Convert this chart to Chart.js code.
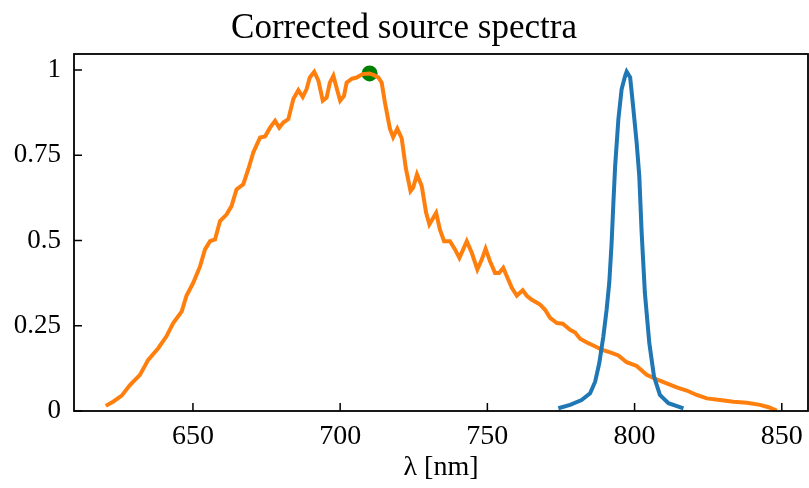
<!DOCTYPE html>
<html>
<head>
<meta charset="utf-8">
<script src="https://cdn.jsdelivr.net/npm/chart.js@4"></script>
<style>
  html, body { margin: 0; padding: 0; background: #fff; }
  #wrap { width: 809px; height: 488px; }
</style>
</head>
<body>
<div id="wrap"><canvas id="myChart"></canvas></div>
<script>
// orange source spectrum (wavelength, normalised intensity)
const orangeX = [620.4, 623, 625.8, 628.6, 632, 634.8, 638.2, 641, 643.3, 646.2, 647.8, 650.1, 652.4, 654.1, 655.8, 657.5,
    659.2, 661.4, 663.1, 664.8, 667.1, 668.8, 670.5, 672.8, 674.5, 676.2, 677.9, 679.3, 680.7, 682.4, 684.1, 685.8,
    687.3, 688.6, 689.7, 691.2, 692.6, 694.1, 695.4, 696.5, 697.7, 698.6, 700, 701.3, 702.2, 703.9, 705.6, 707.6,
    709.9, 711.5, 713, 714.1, 715.2, 716.9, 718, 719.4, 720.9, 722.3, 723.9, 724.8, 726.1, 727.7, 729.2, 730.3,
    732.6, 733.9, 735.3, 737.3, 739, 740.5, 741.8, 743, 744.7, 746.6, 748.1, 749.4, 750.9, 752.6, 754, 755.4,
    756.6, 758.3, 760, 762, 763.4, 765.1, 767.9, 769.6, 771.3, 773.6, 775.6, 778.1, 779.8, 781.5, 783.8, 786,
    788.8, 791.7, 794.5, 797.3, 800.7, 804.1, 807.5, 810.9, 814.3, 817.7, 821.1, 824.5, 829, 833.6, 838.1, 842.6,
    845.5, 848.3];
const orangeY = [0.015, 0.028, 0.045, 0.076, 0.106, 0.15, 0.184, 0.219, 0.258, 0.292, 0.338, 0.376, 0.424, 0.474, 0.498, 0.503,
    0.557, 0.576, 0.601, 0.65, 0.665, 0.709, 0.758, 0.802, 0.805, 0.831, 0.851, 0.831, 0.846, 0.856, 0.915, 0.941,
    0.921, 0.944, 0.978, 0.995, 0.969, 0.91, 0.919, 0.963, 0.983, 0.954, 0.91, 0.924, 0.963, 0.974, 0.978, 0.988,
    0.99, 0.985, 0.978, 0.963, 0.905, 0.828, 0.803, 0.828, 0.8, 0.712, 0.645, 0.655, 0.694, 0.66, 0.581, 0.547,
    0.581, 0.532, 0.498, 0.498, 0.474, 0.449, 0.474, 0.498, 0.464, 0.415, 0.444, 0.476, 0.439, 0.405, 0.405, 0.42,
    0.395, 0.361, 0.338, 0.354, 0.338, 0.326, 0.312, 0.297, 0.273, 0.258, 0.256, 0.238, 0.23, 0.212, 0.201, 0.192,
    0.18, 0.172, 0.163, 0.143, 0.132, 0.106, 0.093, 0.081, 0.069, 0.06, 0.047, 0.037, 0.032, 0.027, 0.024, 0.018,
    0.011, 0.001];

// blue source spectrum
const blueX = [774.1, 778.1, 782, 784.9, 786.6, 788, 789.4, 790.5, 791.4, 792.2, 792.8, 793.4, 794.5, 795.6, 796.8, 797.3,
    798.5, 799.6, 800.7, 801.6, 802.4, 803.5, 805, 806.6, 808.6, 811.5, 816.6];
const blueY = [0.008, 0.018, 0.032, 0.052, 0.086, 0.14, 0.219, 0.297, 0.376, 0.493, 0.611, 0.719, 0.856, 0.944, 0.983, 0.995,
    0.978, 0.885, 0.787, 0.689, 0.523, 0.346, 0.199, 0.101, 0.047, 0.023, 0.008];

// marked maximum
const peakX = [710];
const peakY = [0.99];

const xTicks = [650, 700, 750, 800, 850];
const yTicks = [0, 0.25, 0.5, 0.75, 1];
const yTickLabels = ['0', '0.25', '0.5', '0.75', '1'];

const toPts = (xs, ys) => xs.map((x, i) => ({x: x, y: ys[i]}));

// stretch the plot area to the right edge, then draw the box and inward ticks
const frameTicks = {
    id: 'frameTicks',
    afterLayout(chart) {
        const a = chart.chartArea;
        const x = chart.scales.x;
        a.right = chart.width - 1;
        a.width = a.right - a.left;
        x.right = a.right;
        x.width = x.right - x.left;
        x.configure();
    },
    afterDatasetsDraw(chart) {
        const {ctx, chartArea: a, scales} = chart;
        ctx.save();
        ctx.strokeStyle = '#000';
        ctx.lineWidth = 1.8;
        ctx.strokeRect(a.left, a.top, a.right - a.left, a.bottom - a.top);
        ctx.lineWidth = 1.5;
        ctx.beginPath();
        xTicks.forEach(v => {
            const px = scales.x.getPixelForValue(v);
            ctx.moveTo(px, a.bottom);
            ctx.lineTo(px, a.bottom - 8);
        });
        yTicks.forEach(v => {
            const py = scales.y.getPixelForValue(v);
            ctx.moveTo(a.left, py);
            ctx.lineTo(a.left + 8, py);
        });
        ctx.stroke();
        ctx.restore();
    }
};

const serif = 'Liberation Serif';

new Chart(document.getElementById('myChart'), {
    type: 'line',
    data: {
        datasets: [
            {
                data: toPts(blueX, blueY),
                borderColor: '#1f77b4',
                borderWidth: 4,
                pointRadius: 0,
                tension: 0
            },
            {
                data: toPts(orangeX, orangeY),
                borderColor: '#ff7f0e',
                borderWidth: 4,
                pointRadius: 0,
                tension: 0
            },
            {
                data: toPts(peakX, peakY),
                showLine: false,
                pointRadius: 8,
                pointBorderWidth: 0,
                pointBackgroundColor: 'green',
                pointBorderColor: 'green',
                borderColor: 'green'
            }
        ]
    },
    plugins: [frameTicks],
    options: {
        responsive: true,
        maintainAspectRatio: false,
        animation: false,
        layout: {padding: {left: 0, right: 1, top: 0, bottom: 0}},
        scales: {
            x: {
                type: 'linear',
                min: 609.6,
                max: 858.9,
                grid: {display: false},
                border: {display: false},
                afterBuildTicks: s => { s.ticks = xTicks.map(v => ({value: v})); },
                afterFit: s => { s.height = 77; s.paddingLeft = 0; s.paddingRight = 0; },
                ticks: {
                    color: '#000',
                    padding: 1,
                    maxRotation: 0,
                    font: {family: serif, size: 28}
                },
                title: {
                    display: true,
                    text: 'λ [nm]',
                    color: '#000',
                    font: {family: serif, size: 28},
                    padding: {top: 0, bottom: 4}
                }
            },
            y: {
                min: 0,
                max: 1.047,
                grid: {display: false},
                border: {display: false},
                afterBuildTicks: s => { s.ticks = yTicks.map(v => ({value: v})); },
                afterFit: s => { s.width = 74; s.paddingTop = 0; s.paddingBottom = 0; },
                ticks: {
                    color: '#000',
                    padding: 5,
                    font: {family: serif, size: 27},
                    callback: (v) => yTickLabels[yTicks.indexOf(v)]
                }
            }
        },
        plugins: {
            legend: {display: false},
            tooltip: {enabled: false},
            title: {
                display: true,
                text: 'Corrected source spectra',
                color: '#000',
                font: {family: serif, size: 35, weight: 'normal'},
                padding: {top: 8, bottom: 4}
            }
        }
    }
});
</script>
</body>
</html>
